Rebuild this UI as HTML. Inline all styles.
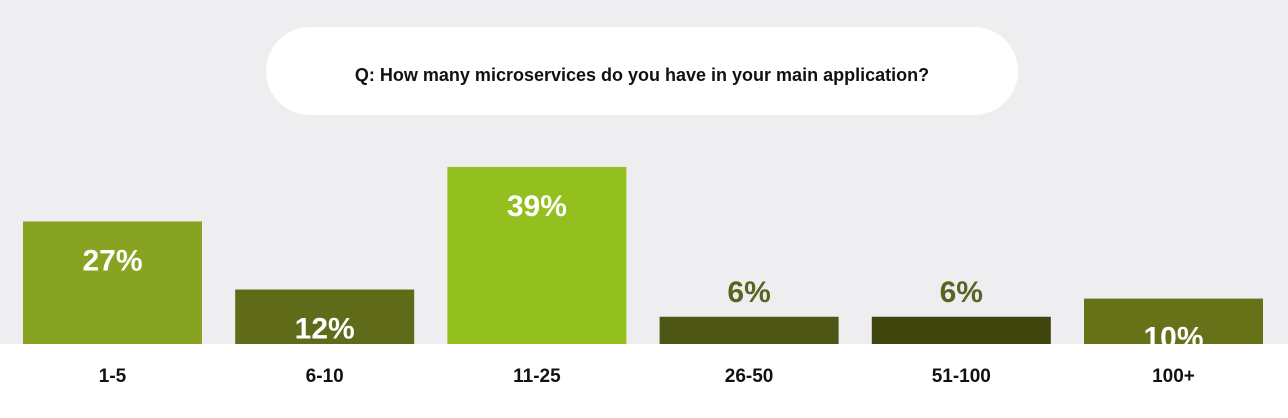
<!DOCTYPE html>
<html><head><meta charset="utf-8"><style>
body{margin:0;width:1288px;height:413px;overflow:hidden;background:#fff;font-family:"Liberation Sans",sans-serif}
</style></head><body>
<svg width="1288" height="413" xmlns="http://www.w3.org/2000/svg">
<rect x="0" y="0" width="1288" height="344" fill="#eeeef0"/>
<rect x="266" y="27" width="752" height="88" rx="44" fill="#fff"/>
<text x="642" y="81" text-anchor="middle" font-size="18" font-weight="bold" fill="#111">Q: How many microservices do you have in your main application?</text>
<g id="bars"></g>
</svg>
<script>
const categories=["1-5","6-10","11-25","26-50","51-100","100+"];
const values=[27,12,39,6,6,10];
const colors=["#88a322","#5f6b18","#93c01f","#4e5616","#40450e","#667118"];
const baseY=344, pxPer=4.54, x0=23, step=212.2, bw=179;
function yScale(v){return baseY-v*pxPer;}
function xScale(i){return x0+i*step;}
const g=document.getElementById('bars');
const NS="http://www.w3.org/2000/svg";
categories.forEach((c,i)=>{
  const v=values[i], y=yScale(v), x=xScale(i);
  const r=document.createElementNS(NS,'rect');
  
  
  r.setAttribute('x',x);r.setAttribute('y',y);r.setAttribute('width',bw);r.setAttribute('height',baseY-y);r.setAttribute('fill',colors[i]);
  g.appendChild(r);
  const t=document.createElementNS(NS,'text');
  
  
  const inside=(baseY-y)>40;
  t.setAttribute('x',x+bw/2);t.setAttribute('y',inside?y+49:y-15);
  t.setAttribute('text-anchor','middle');t.setAttribute('font-size','30');t.setAttribute('font-weight','bold');
  t.setAttribute('fill',inside?'#fff':'#5a6420');
  t.textContent=v+'%';g.appendChild(t);
  const l=document.createElementNS(NS,'text');
  
  
  l.setAttribute('x',x+bw/2);l.setAttribute('y',382);l.setAttribute('text-anchor','middle');
  l.setAttribute('font-size','19');l.setAttribute('font-weight','bold');l.setAttribute('fill','#111');
  l.textContent=c;g.appendChild(l);
});
</script>
</body></html>
